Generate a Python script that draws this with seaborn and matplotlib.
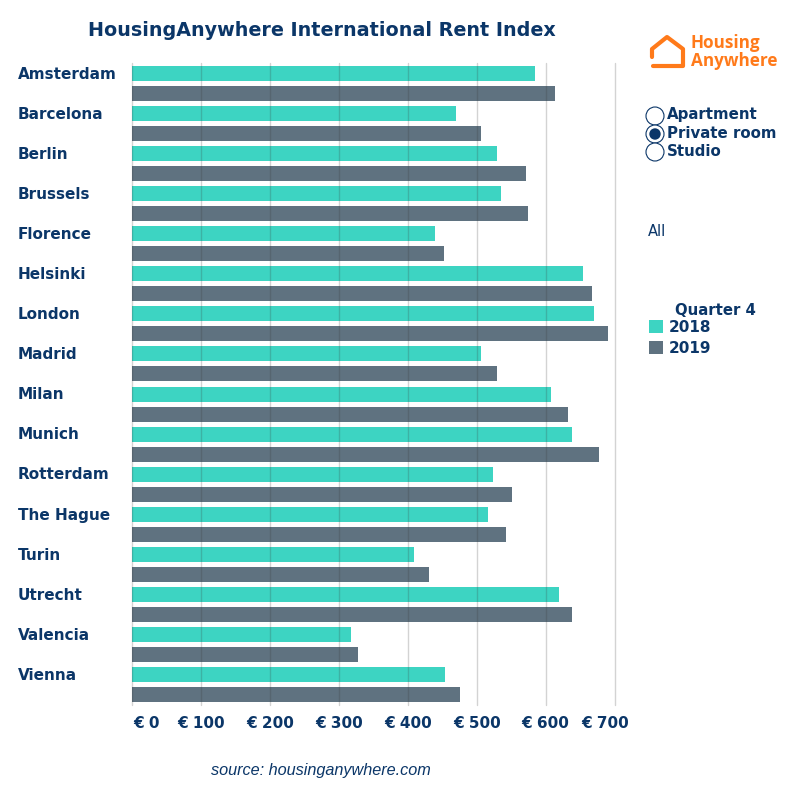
import matplotlib
matplotlib.use('Agg')
import matplotlib.pyplot as plt
import seaborn as sns
import pandas as pd
from matplotlib.lines import Line2D
from matplotlib.patches import Circle
from matplotlib.transforms import ScaledTranslation

cities = ['Amsterdam', 'Barcelona', 'Berlin', 'Brussels', 'Florence', 'Helsinki', 'London', 'Madrid',
          'Milan', 'Munich', 'Rotterdam', 'The Hague', 'Turin', 'Utrecht', 'Valencia', 'Vienna']
rent_2018 = [584, 470, 529, 535, 439, 654, 670, 506, 608, 638, 524, 516, 409, 619, 317, 454]
rent_2019 = [613, 506, 571, 574, 452, 667, 690, 529, 632, 678, 551, 542, 431, 638, 328, 476]
xticks = [0, 100, 200, 300, 400, 500, 600, 700]
room_types = ['Apartment', 'Private room', 'Studio']

navy = '#0b3668'
orange = '#ff7a1a'
W = 799.0

datos = pd.DataFrame({'City': cities * 2,
                      'Rent': rent_2018 + rent_2019,
                      'Year': ['2018'] * 16 + ['2019'] * 16})

sns.set_theme(style='white')
plt.rcParams['font.family'] = 'DejaVu Sans'

fig = plt.figure(figsize=(7.99, 7.99), dpi=100)
ax = fig.add_axes([132 / W, 1 - 704.5 / W, (614.5 - 132) / W, (704.5 - 63.5) / W])

sns.barplot(data=datos, y='City', x='Rent', hue='Year', order=cities, orient='h', width=1.0, gap=0.25,
            palette=['#3dd4c2', '#5f7280'], saturation=1, linewidth=0, edgecolor='none', ax=ax, legend=True)

ax.set_xlim(0, 700)
ax.set_ylim(15.5, -0.5)
ax.set_xlabel('')
ax.set_ylabel('')
sns.despine(ax=ax, left=True, bottom=True, top=True, right=True)
ax.set_axisbelow(False)
ax.grid(axis='x', color='#3a3a3a', alpha=0.22, linewidth=1)
ax.grid(axis='y', visible=False)
for g in ax.get_xgridlines():
    g.set_clip_on(False)

ax.set_xticks(xticks)
ax.set_xticklabels(['€ %d' % v for v in xticks], fontsize=11, fontweight='bold', color=navy)
ax.tick_params(axis='x', length=0, pad=8)
ax.tick_params(axis='y', length=0, pad=82)
for lab in ax.get_yticklabels():
    lab.set_ha('left')
    lab.set_fontsize(11)
    lab.set_fontweight('bold')
    lab.set_color(navy)
    lab.set_transform(lab.get_transform() + ScaledTranslation(0, 10.7 / 100, fig.dpi_scale_trans))

# first and last x labels are pushed inwards
xl = ax.get_xticklabels()
xl[0].set_transform(xl[0].get_transform() + ScaledTranslation(14.5 / 100, 0, fig.dpi_scale_trans))
xl[-1].set_transform(xl[-1].get_transform() + ScaledTranslation(-9 / 100, 0, fig.dpi_scale_trans))

handles, labels = ax.get_legend_handles_labels()
ax.legend_.remove()
leg = fig.legend(handles, labels, loc='upper left', bbox_to_anchor=(649 / W, 1 - 320 / W),
                 frameon=False, fontsize=11, handlelength=0.92, handleheight=0.92, handletextpad=0.35,
                 labelspacing=0.38, borderpad=0, borderaxespad=0)
for t in leg.get_texts():
    t.set_color(navy)
    t.set_fontweight('bold')


def px(x, y):
    return x / W, 1 - y / W


fig.text(*px(88, 30), 'HousingAnywhere International Rent Index', fontsize=13.75, fontweight='bold',
         color=navy, va='center', ha='left')
fig.text(*px(211, 770), 'source: housinganywhere.com', fontsize=11.7, style='italic', color=navy,
         family='Liberation Sans', va='center', ha='left')
fig.text(*px(648, 231), 'All', fontsize=10.5, color=navy, va='center', ha='left')
fig.text(*px(675, 310), 'Quarter 4', fontsize=10.7, fontweight='bold', color=navy, va='center', ha='left')

# radio buttons
for i, name in enumerate(room_types):
    cx, cy = px(655, 116 + 18 * i)
    fig.add_artist(Circle((cx, cy), 9 / W, transform=fig.transFigure, facecolor='white', edgecolor=navy, linewidth=0.8))
    if i == 1:
        fig.add_artist(Circle((cx, cy), 5.7 / W, transform=fig.transFigure, facecolor=navy, edgecolor='none'))
    fig.text(*px(667, 119.5 + 18.3 * i), name, fontsize=10.8, fontweight='bold', color=navy, va='baseline', ha='left')

# logo
hx = [652, 652, 667, 683, 683, 653]
hy = [57, 49, 37, 49, 66, 66]
xs, ys = zip(*[px(a, b) for a, b in zip(hx, hy)])
fig.add_artist(Line2D(xs, ys, color=orange, lw=3, solid_capstyle='round', solid_joinstyle='round'))
fig.text(*px(691, 48), 'Housing', fontsize=12.3, fontweight='bold', color=orange, va='baseline', ha='left',
         family='Open Sans')
fig.text(*px(691, 66.5), 'Anywhere', fontsize=12.3, fontweight='bold', color=orange, va='baseline', ha='left',
         family='Open Sans')

plt.savefig('out.png', dpi=100)
